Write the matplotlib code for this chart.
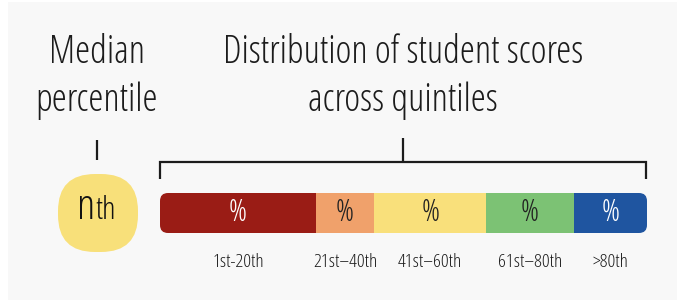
import matplotlib
matplotlib.use('Agg')
import matplotlib.pyplot as plt
from matplotlib.patches import FancyBboxPatch, Rectangle
from matplotlib.transforms import blended_transform_factory
import numpy as np

# data
quintiles = ['1st-20th', '21st–40th', '41st–60th', '61st–80th', '>80th']
shares = [32, 12, 23, 18, 15]
seg_colors = ['#9a1c15', '#f0a16b', '#f9e07b', '#7cc274', '#1f55a0']
pct_colors = ['white', '#222222', '#222222', '#222222', 'white']
pct_label = '%'
median_label = 'n'
median_suffix = 'th'

FONT = dict(family='Open Sans', stretch='condensed', weight=300)
INK = '#1c1c1c'

W, H = 677, 300
fig = plt.figure(figsize=(W / 100, H / 100), dpi=100, facecolor='white')

# overlay axes in pixel units for headings, brackets and badge
ov = fig.add_axes([0, 0, 1, 1])
ov.set_xlim(0, W)
ov.set_ylim(H, 0)
ov.axis('off')
ov.add_patch(Rectangle((8, 2), W - 8, H - 2, facecolor='#f8f8f8', edgecolor='none', zorder=0))

# headings
ov.text(97, 63, 'Median', ha='center', va='baseline', fontsize=27.5, color=INK, **FONT)
ov.text(97, 111, 'percentile', ha='center', va='baseline', fontsize=27.5, color=INK, **FONT)
ov.text(403, 63, 'Distribution of student scores', ha='center', va='baseline',
        fontsize=27.5, color=INK, **FONT)
ov.text(403, 111, 'across quintiles', ha='center', va='baseline', fontsize=27.5, color=INK, **FONT)

# connectors
lw = 1.6
ov.plot([97, 97], [140, 160], color=INK, lw=lw, solid_capstyle='butt')
ov.plot([403, 403], [138, 162], color=INK, lw=lw, solid_capstyle='butt')
ov.plot([160, 160, 646, 646], [179, 162, 162, 179], color=INK, lw=lw,
        solid_capstyle='butt', solid_joinstyle='miter')

# median badge
ov.add_patch(FancyBboxPatch((58, 174), 80, 78, boxstyle='round,pad=0,rounding_size=37',
                            facecolor='#f8e07a', edgecolor='none', zorder=2))
ov.text(95, 219, median_label, ha='right', va='baseline', fontsize=31, color='#111111',
        zorder=3, **FONT)
ov.text(95.5, 219, median_suffix, ha='left', va='baseline', fontsize=23, color='#111111',
        zorder=3, **FONT)

# stacked bar
bx0, bx1, by0, by1 = 160, 647, 193, 233
ax = fig.add_axes([bx0 / W, 1 - by1 / H, (bx1 - bx0) / W, (by1 - by0) / H])
ax.set_xlim(0, sum(shares))
ax.set_ylim(0, 1)
ax.axis('off')
ax.patch.set_alpha(0)
lefts = np.concatenate([[0], np.cumsum(shares)[:-1]])
bars = ax.barh(0.5, shares, left=lefts, height=1, color=seg_colors, edgecolor='none')
clip = FancyBboxPatch((bx0, by0), bx1 - bx0, by1 - by0, boxstyle='round,pad=0,rounding_size=8',
                      facecolor='none', edgecolor='none', transform=ov.transData)
ov.add_patch(clip)
for b in bars:
    b.set_clip_path(clip)

trans = blended_transform_factory(ax.transData, ax.transAxes)
for left, share, lab, pc in zip(lefts, shares, quintiles, pct_colors):
    cx = left + share / 2
    ax.text(cx, 0.5, pct_label, ha='center', va='center', fontsize=22, color=pc, **FONT)
    ax.text(cx, -0.72, lab, ha='center', va='center', fontsize=14, color=INK,
            transform=trans, clip_on=False, **FONT)

fig.savefig('out.png', dpi=100, facecolor=fig.get_facecolor())
